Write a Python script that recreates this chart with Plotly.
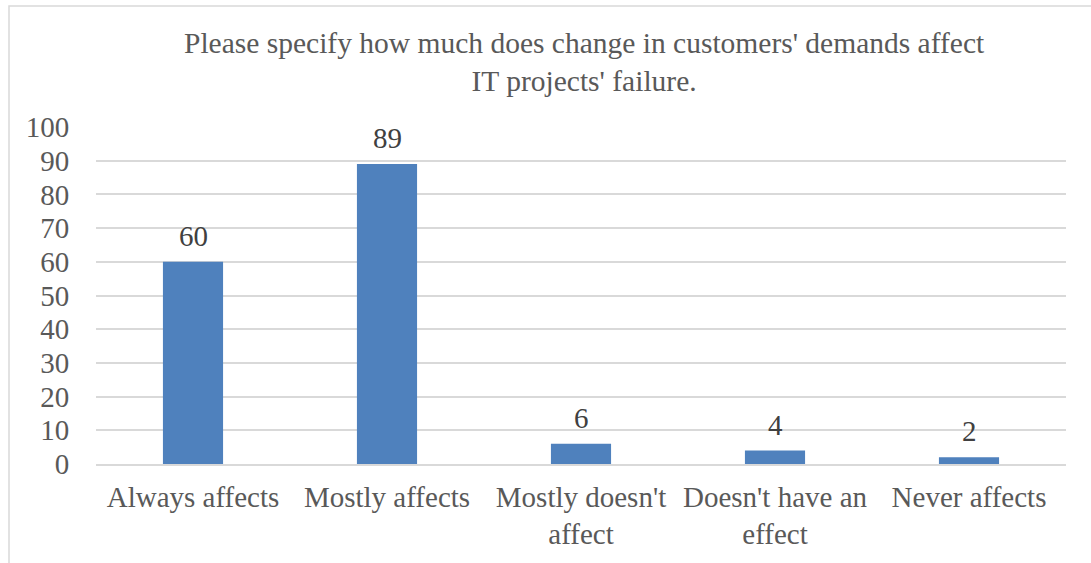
import plotly.graph_objects as go

categories = ["Always affects", "Mostly affects", "Mostly doesn't<br>affect", "Doesn't have an<br>effect", "Never affects"]
values = [60, 89, 6, 4, 2]
y_ticks = list(range(0, 101, 10))
title_text = "Please specify how much does change in customers' demands affect<br>IT projects' failure."

FONT = "Liberation Serif, Times New Roman, serif"
L, R, T, B = 96, 25, 127, 99
PW, PH = 1091 - L - R, 563 - T - B

fig = go.Figure(go.Bar(
    x=categories, y=values,
    marker=dict(color="#4F81BD", line=dict(width=0)),
    width=0.31,
    cliponaxis=False,
))

for c, v in zip(categories, values):
    fig.add_annotation(x=c, y=v, text=str(v), showarrow=False, xanchor="center",
                       yanchor="middle", yshift=26,
                       font=dict(family=FONT, size=29, color="#404040"))

fig.update_layout(
    width=1091, height=563,
    margin=dict(l=L, r=R, t=T, b=B, autoexpand=False),
    paper_bgcolor="white", plot_bgcolor="white",
    font=dict(family=FONT, size=29, color="#595959"),
    showlegend=False,
)
fig.add_annotation(text=title_text, xref="paper", yref="paper",
                   x=(584 - L) / PW, y=1 + (T - 62) / PH, xanchor="center", yanchor="middle",
                   showarrow=False, align="center",
                   font=dict(family=FONT, size=29.5, color="#595959"))
fig.update_yaxes(range=[0, 100], tickvals=y_ticks, showgrid=True, gridcolor="#D9D9D9", gridwidth=1.5,
                 zeroline=False, showline=False, ticks="outside", ticklen=20, tickcolor="rgba(0,0,0,0)",
                 automargin=False, tickfont=dict(family=FONT, size=29, color="#595959"))
fig.update_xaxes(showline=True, linecolor="#D9D9D9", linewidth=1.5, ticks="outside", ticklen=6,
                 tickcolor="rgba(0,0,0,0)", automargin=False,
                 tickfont=dict(family=FONT, size=29, color="#595959"))

# outer chart border
fig.add_shape(type="rect", xref="paper", yref="paper",
              x0=(9 - L) / PW, x1=(1095 - L) / PW,
              y0=-(570 - 464) / PH, y1=1 + (T - 6) / PH,
              line=dict(color="#D9D9D9", width=1.5), fillcolor="rgba(0,0,0,0)", layer="below")

fig.write_html("out.html", config={"displayModeBar": False},
               post_script="document.body.style.margin='0';document.body.style.overflow='hidden';")
